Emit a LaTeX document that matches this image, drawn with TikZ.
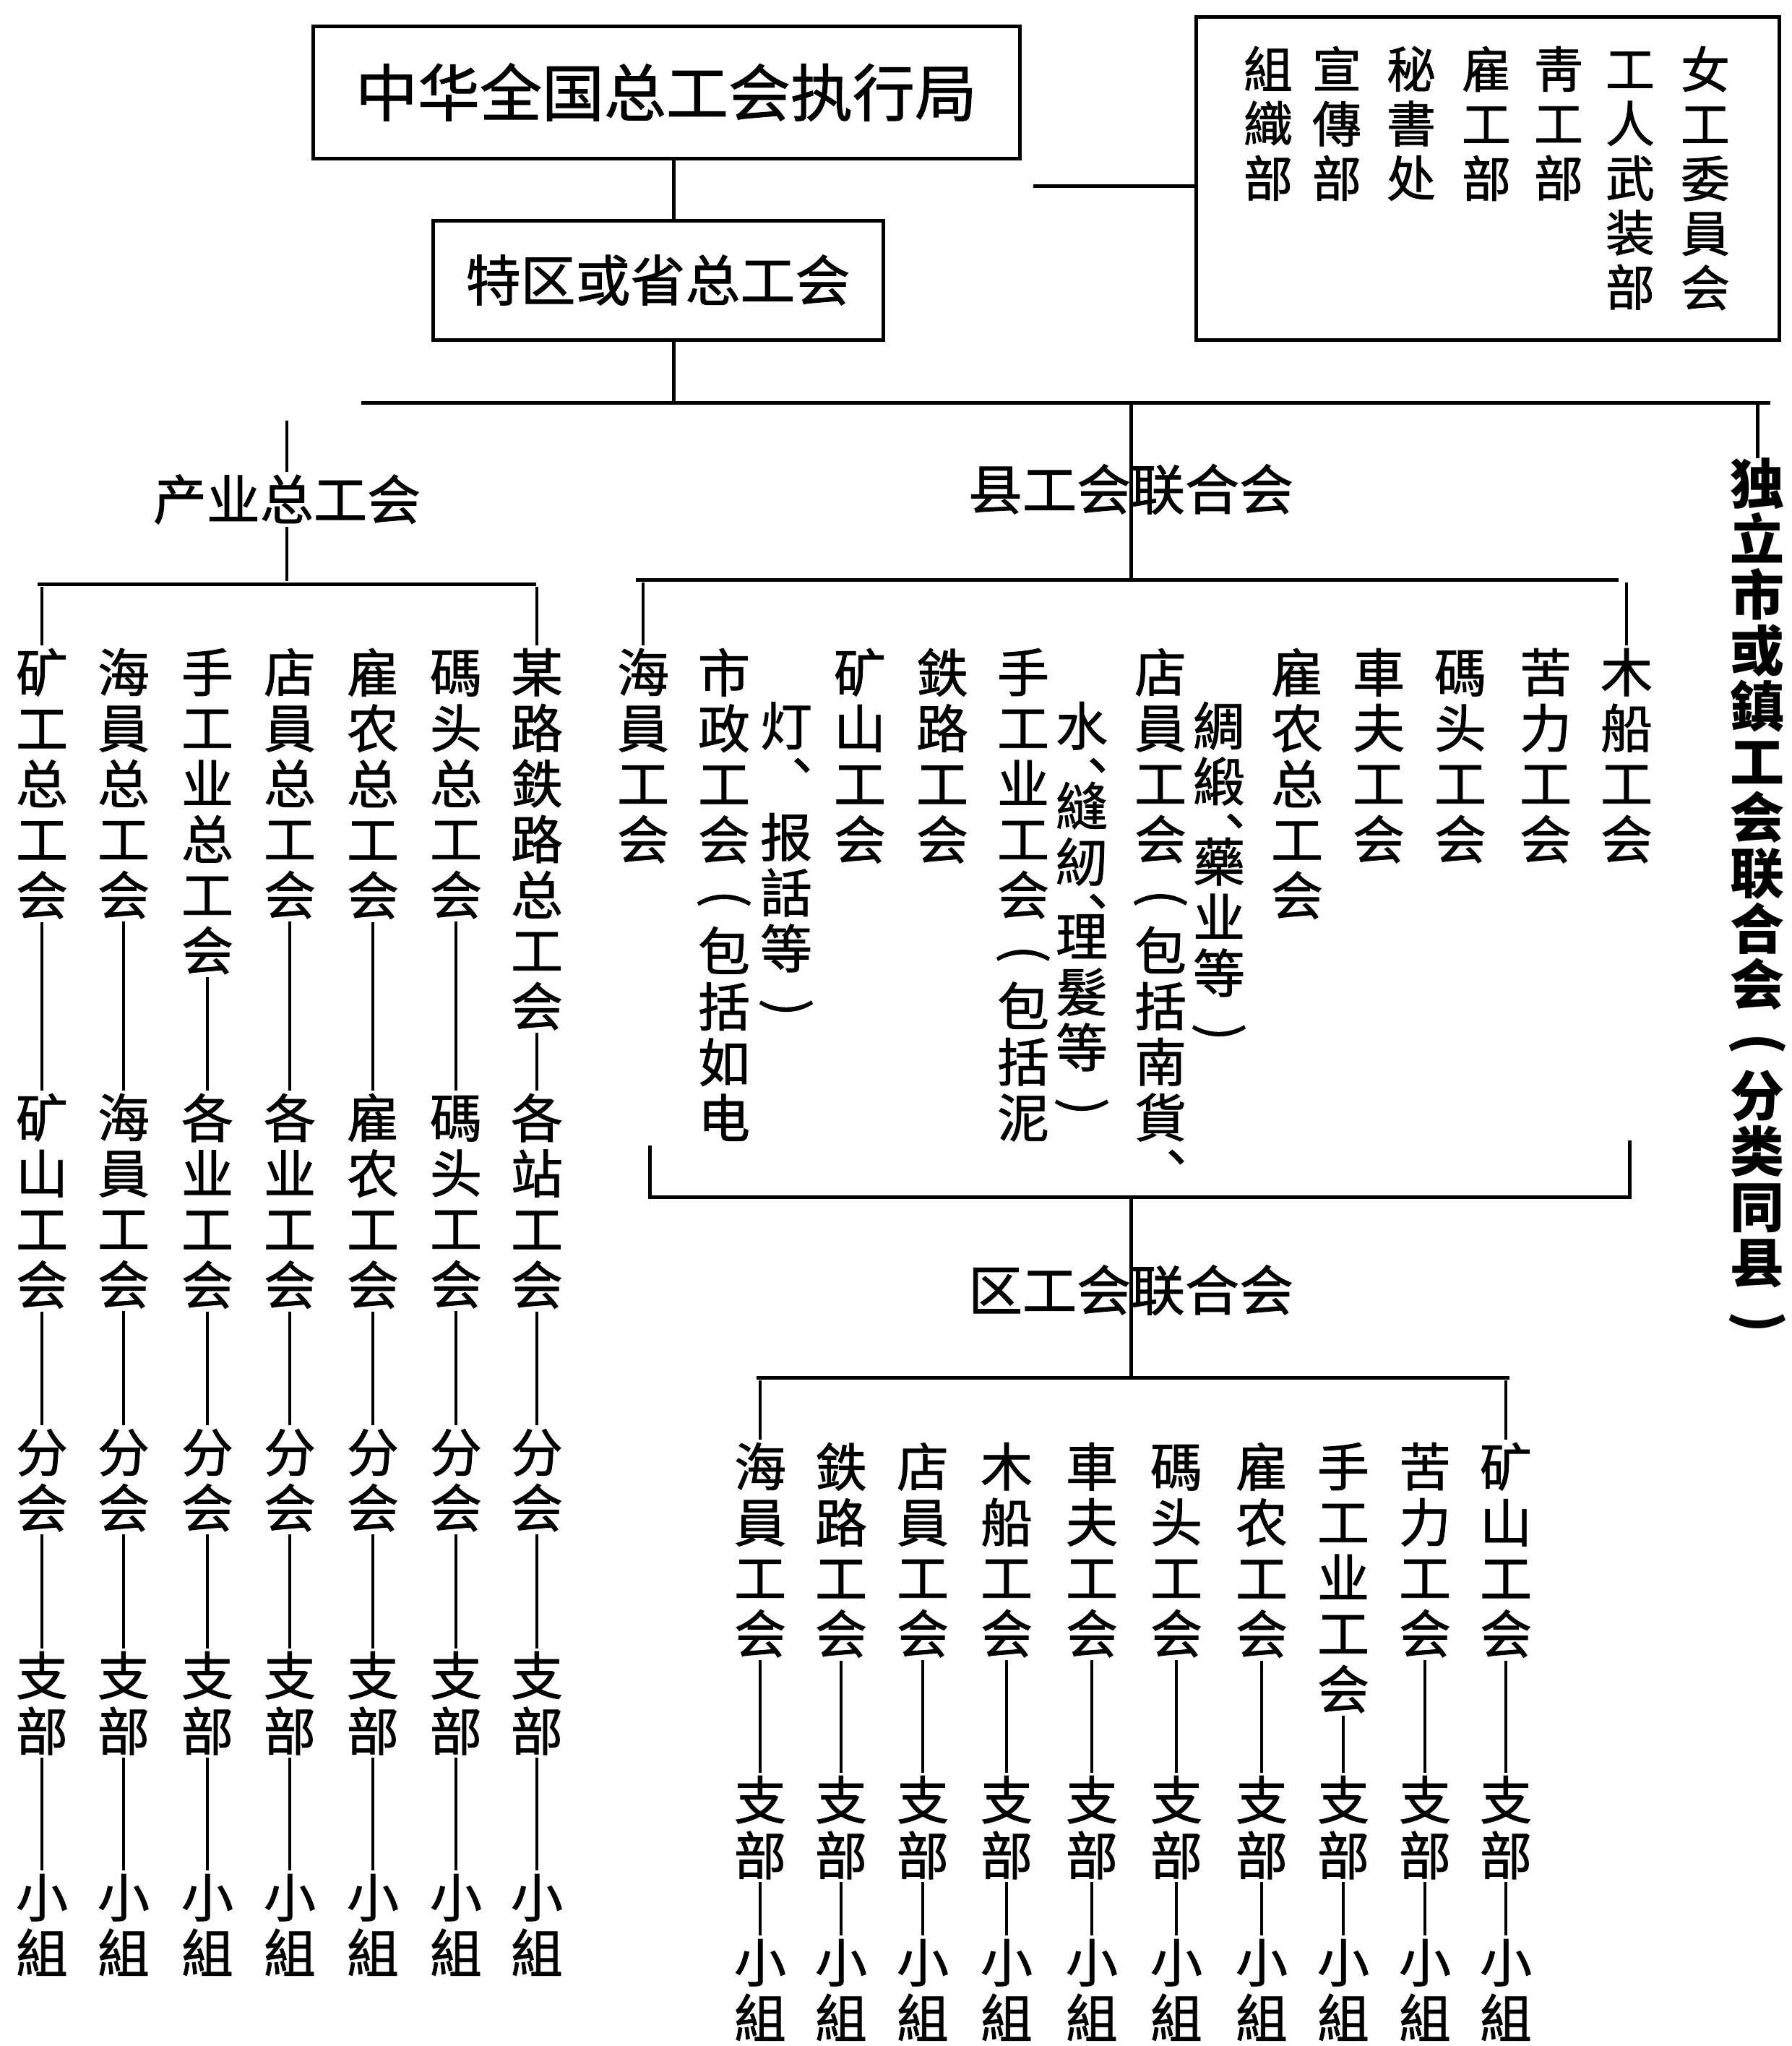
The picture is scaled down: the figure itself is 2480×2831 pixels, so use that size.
\documentclass[tikz,border=0pt]{standalone}
\usepackage{fontspec}
\usepackage{graphicx}
\newfontfamily\cjk{Noto Sans CJK SC}[FakeBold=1.2]
\newfontfamily\cjkb{Noto Sans CJK SC}
\newcommand\Tp{\rule{0pt}{0.84em}}
\newcommand\Bt{\rule[-0.08em]{0pt}{0.08em}}
\newcommand\LP{\rotatebox[origin=c]{-90}{(}}
\newcommand\RP{\rotatebox[origin=c]{-90}{)}}
\begin{document}
\begin{tikzpicture}[x=0.3pt,y=-0.3pt,
 every node/.style={inner sep=0pt,outer sep=0pt},
 ln/.style={line width=1.3pt,shorten <=1.2pt,shorten >=1.2pt},
 hl/.style={line width=1.5pt},
 box/.style={draw,line width=1.5pt},
 col/.style={align=center,anchor=north,font={\cjk\fontsize{21.6}{23.1}\selectfont\lineskiplimit=-100pt\relax}},
 dcol/.style={align=center,anchor=north,font={\cjk\fontsize{20.4}{22.65}\selectfont\lineskiplimit=-100pt\relax}},
 bcol/.style={align=center,anchor=north,font={\cjkb\bfseries\fontsize{22.5}{23.1}\selectfont\lineskiplimit=-100pt\relax}},
 htext/.style={font={\cjk\fontsize{22.5}{27}\selectfont}},
]
\useasboundingbox (0,0) rectangle (2480,2831);

% ---- top boxes
\node[box,minimum width=293.4pt,minimum height=54.9pt,font={\cjk\fontsize{25.8}{30}\selectfont}] (exec) at (922,127.5) {中华全国总工会执行局};
\node[box,minimum width=186.9pt,minimum height=49.5pt,font={\cjk\fontsize{22.8}{27}\selectfont}] (prov) at (910.5,387.5) {特区或省总工会};
\node[box,minimum width=242.1pt,minimum height=134.1pt] (depts) at (2058.5,246.5) {};

\node[dcol] (dp1) at (1755,64) {\Tp 組\\織\\部\Bt};
\node[dcol] (dp2) at (1850,64) {\Tp 宣\\傳\\部\Bt};
\node[dcol] (dp3) at (1953,64) {\Tp 秘\\書\\处\Bt};
\node[dcol] (dp4) at (2057,64) {\Tp 雇\\工\\部\Bt};
\node[dcol] (dp5) at (2157,64) {\Tp 靑\\工\\部\Bt};
\node[dcol] (dp6) at (2256,64) {\Tp 工\\人\\武\\装\\部\Bt};
\node[dcol] (dp7) at (2360,64) {\Tp 女\\工\\委\\員\\会\Bt};

\coordinate (v1) at (932,0);
\coordinate (busL) at (500,557);
\coordinate (busR) at (2450,557);
\coordinate (dl) at (1430,257);
\draw[hl] (exec.south -| v1) -- (prov.north -| v1);
\draw[hl] (prov.south -| v1) -- (v1 |- busL);
\draw[hl] (busL) -- (busR);
\draw[hl] (dl) -- (dl -| depts.west);

% ---- second level headings
\node[htext,font={\cjk\fontsize{22.2}{27}\selectfont}] (ind) at (397,691) {产业总工会};
\node[htext] (county) at (1565,677) {县工会联合会};
\node[htext] (dist) at (1565,1785) {区工会联合会};
\node[bcol] (indep) at (2432,634) {\Tp 独\\立\\市\\或\\鎮\\工\\会\\联\\合\\会\\\LP\\分\\类\\同\\县\\\RP\Bt};

\coordinate (indTop) at (397,578);
\draw[ln] (indTop) -- (ind.north);
\draw[hl] (indep.north |- busL) -- (indep.north);

% ---- industrial unions (left block)
\coordinate (lhL) at (52,808);
\coordinate (lhR) at (742,808);
\draw[ln] (ind.south) -- (ind.south |- lhL);
\draw[hl] (lhL) -- (lhR);

\node[col] (i1) at (58,897)  {\Tp 矿\\工\\总\\工\\会\Bt};
\node[col] (i2) at (171,897) {\Tp 海\\員\\总\\工\\会\Bt};
\node[col] (i3) at (287,897) {\Tp 手\\工\\业\\总\\工\\会\Bt};
\node[col] (i4) at (401,897) {\Tp 店\\員\\总\\工\\会\Bt};
\node[col] (i5) at (516,897) {\Tp 雇\\农\\总\\工\\会\Bt};
\node[col] (i6) at (631,897) {\Tp 碼\\头\\总\\工\\会\Bt};
\node[col] (i7) at (743,897) {\Tp 某\\路\\鉄\\路\\总\\工\\会\Bt};

\node[col] (j1) at (58,1513)  {\Tp 矿\\山\\工\\会\Bt};
\node[col] (j2) at (171,1513) {\Tp 海\\員\\工\\会\Bt};
\node[col] (j3) at (287,1513) {\Tp 各\\业\\工\\会\Bt};
\node[col] (j4) at (401,1513) {\Tp 各\\业\\工\\会\Bt};
\node[col] (j5) at (516,1513) {\Tp 雇\\农\\工\\会\Bt};
\node[col] (j6) at (631,1513) {\Tp 碼\\头\\工\\会\Bt};
\node[col] (j7) at (743,1513) {\Tp 各\\站\\工\\会\Bt};

\draw[ln] (i1.north |- lhL) -- (i1.north);
\draw[ln] (i7.north |- lhR) -- (i7.north);

\foreach \k/\x in {1/58,2/171,3/287,4/401,5/516,6/631,7/743}{
  \node[col] (f\k) at (\x,1976) {\Tp 分\\会\Bt};
  \node[col] (z\k) at (\x,2285) {\Tp 支\\部\Bt};
  \node[col] (g\k) at (\x,2592) {\Tp 小\\組\Bt};
  \draw[ln] (i\k.south) -- (j\k.north);
  \draw[ln] (j\k.south) -- (f\k.north);
  \draw[ln] (f\k.south) -- (z\k.north);
  \draw[ln] (z\k.south) -- (g\k.north);
}

% ---- county unions (middle block)
\coordinate (cv) at (1565,557);
\coordinate (chL) at (880,802);
\coordinate (chR) at (2240,802);
\draw[hl] (cv) -- (county.center) -- (county.center |- chL);
\draw[hl] (chL) -- (chR);

\node[col] (c1)  at (890,897)  {\Tp 海\\員\\工\\会\Bt};
\node[col] (c2)  at (1002,897) {\Tp 市\\政\\工\\会\\\LP\\包\\括\\如\\电\Bt};
\node[col] (c3)  at (1088,971) {\Tp 灯\\︑\\报\\話\\等\\\RP\Bt};
\node[col] (c4)  at (1190,897) {\Tp 矿\\山\\工\\会\Bt};
\node[col] (c5)  at (1304,897) {\Tp 鉄\\路\\工\\会\Bt};
\node[col] (c6)  at (1416,897) {\Tp 手\\工\\业\\工\\会\\\LP\\包\\括\\泥\Bt};
\node[col] (c7)  at (1497,971) {\Tp 水\\︑\\[-12.9pt]縫\\紉\\︑\\[-15.3pt]理\\髮\\等\\\RP\Bt};
\node[col] (c8)  at (1606,897) {\Tp 店\\員\\工\\会\\\LP\\包\\括\\南\\貨\\︑\Bt};
\node[col] (c9)  at (1687,971) {\Tp 綢\\緞\\︑\\[-12.9pt]藥\\业\\等\\\RP\Bt};
\node[col] (c10) at (1795,897) {\Tp 雇\\农\\总\\工\\会\Bt};
\node[col] (c11) at (1908,897) {\Tp 車\\夫\\工\\会\Bt};
\node[col] (c12) at (2021,897) {\Tp 碼\\头\\工\\会\Bt};
\node[col] (c13) at (2139,897) {\Tp 苦\\力\\工\\会\Bt};
\node[col] (c14) at (2251,897) {\Tp 木\\船\\工\\会\Bt};

\draw[ln] (c1.north |- chL) -- (c1.north);
\draw[ln] (c14.north |- chR) -- (c14.north);

% bracket gathering county unions
\coordinate (bkL) at (899,1585);
\coordinate (bkR) at (2255,1578);
\coordinate (bkB) at (1565,1656);
\draw[hl] (bkL) -- (bkL |- bkB) -- (bkR |- bkB) -- (bkR);

% ---- district unions
\coordinate (dhL) at (1047,1906);
\coordinate (dhR) at (2089,1906);
\draw[hl] (bkB) -- (dist.center) -- (dist.center |- dhL);
\draw[hl] (dhL) -- (dhR);

\node[col] (d1)  at (1052,1996) {\Tp 海\\員\\工\\会\Bt};
\node[col] (d2)  at (1164,1996) {\Tp 鉄\\路\\工\\会\Bt};
\node[col] (d3)  at (1277,1996) {\Tp 店\\員\\工\\会\Bt};
\node[col] (d4)  at (1393,1996) {\Tp 木\\船\\工\\会\Bt};
\node[col] (d5)  at (1511,1996) {\Tp 車\\夫\\工\\会\Bt};
\node[col] (d6)  at (1628,1996) {\Tp 碼\\头\\工\\会\Bt};
\node[col] (d7)  at (1746,1996) {\Tp 雇\\农\\工\\会\Bt};
\node[col] (d8)  at (1859,1996) {\Tp 手\\工\\业\\工\\会\Bt};
\node[col] (d9)  at (1972,1996) {\Tp 苦\\力\\工\\会\Bt};
\node[col] (d10) at (2084,1996) {\Tp 矿\\山\\工\\会\Bt};

\draw[ln] (d1.north |- dhL) -- (d1.north);
\draw[ln] (d10.north |- dhR) -- (d10.north);

\foreach \k/\x in {1/1052,2/1164,3/1277,4/1393,5/1511,6/1628,7/1746,8/1859,9/1972,10/2084}{
  \node[col] (dz\k) at (\x,2457) {\Tp 支\\部\Bt};
  \node[col] (dg\k) at (\x,2682) {\Tp 小\\組\Bt};
  \draw[ln] (d\k.south) -- (dz\k.north);
  \draw[ln] (dz\k.south) -- (dg\k.north);
}
\end{tikzpicture}
\end{document}
